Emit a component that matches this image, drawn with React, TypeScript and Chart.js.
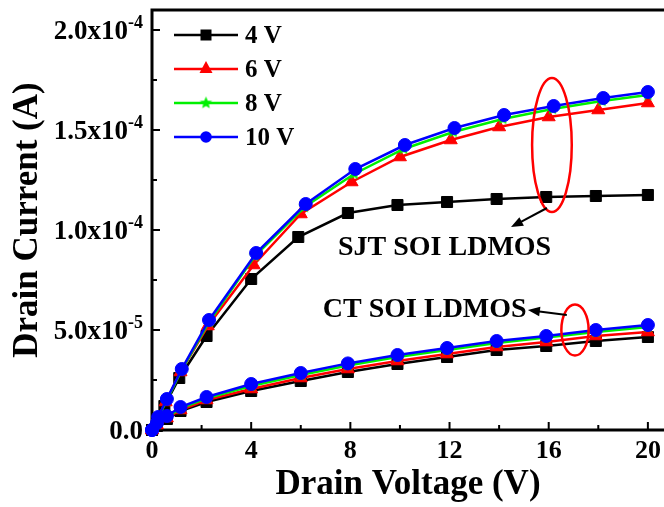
import React, { useEffect, useRef } from 'react';
import { Chart, registerables } from 'chart.js';
Chart.register(...registerables);

// ---------- data ----------
const seriesLabels = ['4 V', '6 V', '8 V', '10 V'];
const seriesColors = ['#000000', '#ff0000', '#00f000', '#0000ff'];

// SJT SOI LDMOS curves
const sjt4x = [0, 0.2, 0.5, 1.1, 2.2, 4.0, 5.9, 7.9, 9.9, 11.9, 13.9, 15.9, 17.9, 20];
const sjt4y = [0, 0.04e-4, 0.12e-4, 0.26e-4, 0.47e-4, 0.755e-4, 0.965e-4, 1.085e-4, 1.125e-4, 1.14e-4, 1.155e-4, 1.165e-4, 1.17e-4, 1.175e-4];
const sjt6x = [0, 0.2, 0.55, 1.15, 2.25, 4.1, 6.0, 8.05, 10.0, 12.05, 14.0, 16.0, 18.0, 20];
const sjt6y = [0, 0.05e-4, 0.14e-4, 0.29e-4, 0.52e-4, 0.825e-4, 1.08e-4, 1.24e-4, 1.365e-4, 1.45e-4, 1.515e-4, 1.565e-4, 1.6e-4, 1.635e-4];
const sjt8x = [0, 0.25, 0.6, 1.2, 2.3, 4.15, 6.15, 8.15, 10.15, 12.15, 14.15, 16.15, 18.15, 20];
const sjt8y = [0, 0.06e-4, 0.15e-4, 0.3e-4, 0.54e-4, 0.87e-4, 1.115e-4, 1.28e-4, 1.405e-4, 1.49e-4, 1.555e-4, 1.605e-4, 1.645e-4, 1.675e-4];
const sjt10x = [0, 0.25, 0.6, 1.2, 2.3, 4.2, 6.2, 8.2, 10.2, 12.2, 14.2, 16.2, 18.2, 20];
const sjt10y = [0, 0.065e-4, 0.155e-4, 0.305e-4, 0.55e-4, 0.885e-4, 1.13e-4, 1.305e-4, 1.425e-4, 1.51e-4, 1.575e-4, 1.62e-4, 1.66e-4, 1.69e-4];

// CT SOI LDMOS curves
const ctX = [0, 0.2, 0.6, 1.15, 2.2, 4.0, 6.0, 7.9, 9.9, 11.9, 13.9, 15.9, 17.9, 20];
const ct4y = [0, 0.02e-4, 0.055e-4, 0.095e-4, 0.14e-4, 0.195e-4, 0.245e-4, 0.29e-4, 0.33e-4, 0.365e-4, 0.4e-4, 0.42e-4, 0.445e-4, 0.465e-4];
const ct6y = [0, 0.025e-4, 0.06e-4, 0.1e-4, 0.15e-4, 0.205e-4, 0.26e-4, 0.305e-4, 0.345e-4, 0.38e-4, 0.415e-4, 0.44e-4, 0.47e-4, 0.49e-4];
const ct8y = [0, 0.03e-4, 0.065e-4, 0.108e-4, 0.158e-4, 0.22e-4, 0.275e-4, 0.322e-4, 0.365e-4, 0.4e-4, 0.435e-4, 0.462e-4, 0.49e-4, 0.515e-4];
const ct10y = [0, 0.035e-4, 0.07e-4, 0.115e-4, 0.165e-4, 0.23e-4, 0.285e-4, 0.333e-4, 0.375e-4, 0.41e-4, 0.445e-4, 0.47e-4, 0.5e-4, 0.525e-4];

// axes
const xMajorTicks = [0, 4, 8, 12, 16, 20];
const xMinorTicks = [2, 6, 10, 14, 18];
const yMajorTicks = [0, 0.5e-4, 1.0e-4, 1.5e-4, 2.0e-4];
const yMinorTicks = [0.25e-4, 0.75e-4, 1.25e-4, 1.75e-4];
const yTickMain = ['0.0', '5.0x10', '1.0x10', '1.5x10', '2.0x10'];
const yTickExp = ['', '-5', '-4', '-4', '-4'];
const xTitle = 'Drain Voltage (V)';
const yTitle = 'Drain Current (A)';

// annotations (data coordinates)
const noteTexts = ['SJT SOI LDMOS', 'CT SOI LDMOS'];
const noteX = [11.8, 11.0];
const noteY = [0.915e-4, 0.605e-4];
const ellipseCx = [16.13, 17.06];
const ellipseCy = [1.425e-4, 0.5e-4];
const ellipseRx = [0.8, 0.55];
const ellipseRy = [0.335e-4, 0.1275e-4];
const arrowFromX = [15.93, 16.73];
const arrowFromY = [1.11e-4, 0.575e-4];
const arrowToX = [14.48, 15.16];
const arrowToY = [1.015e-4, 0.6e-4];

const FONT = "'Liberation Serif', 'Times New Roman', serif";

function makeStar(color: string, r: number) {
  const c = document.createElement('canvas');
  const s = Math.ceil(r * 2 + 2);
  c.width = s;
  c.height = s;
  const g = c.getContext('2d')!;
  g.beginPath();
  for (let i = 0; i < 10; i++) {
    const ang = -Math.PI / 2 + (i * Math.PI) / 5;
    const rr = i % 2 === 0 ? r : r * 0.45;
    g.lineTo(s / 2 + rr * Math.cos(ang), s / 2 + rr * Math.sin(ang));
  }
  g.closePath();
  g.fillStyle = color;
  g.fill();
  return c;
}

function zip(xs: number[], ys: number[]) {
  return xs.map((x, i) => ({ x, y: ys[i] }));
}

export default function App() {
  const ref = useRef<HTMLCanvasElement>(null);
  useEffect(() => {
    const star = makeStar(seriesColors[2], 6.5);
    const markers: any[] = ['rect', 'triangle', star, 'circle'];
    const radii = [7.8, 7.5, 6, 6.5];
    const sjt = [zip(sjt4x, sjt4y), zip(sjt6x, sjt6y), zip(sjt8x, sjt8y), zip(sjt10x, sjt10y)];
    const ct = [zip(ctX, ct4y), zip(ctX, ct6y), zip(ctX, ct8y), zip(ctX, ct10y)];
    const datasets: any[] = [];
    for (let i = 0; i < 4; i++) {
      for (const d of [sjt[i], ct[i]]) {
        datasets.push({
          label: seriesLabels[i],
          data: d,
          borderColor: seriesColors[i],
          backgroundColor: seriesColors[i],
          pointBackgroundColor: seriesColors[i],
          pointBorderColor: seriesColors[i],
          borderWidth: 2.5,
          pointStyle: markers[i],
          pointRadius: radii[i],
          pointBorderWidth: 1,
          order: 3 - i,
          clip: false,
          tension: 0,
        });
      }
    }

    const decor = {
      id: 'decor',
      beforeDatasetsDraw(chart: any) {
        const { ctx, chartArea: a, scales } = chart;
        const x = scales.x;
        const y = scales.y;
        ctx.save();
        ctx.strokeStyle = '#000';
        ctx.lineWidth = 3;
        ctx.beginPath();
        ctx.moveTo(a.right + 5, a.top);
        ctx.lineTo(a.left, a.top);
        ctx.lineTo(a.left, a.bottom);
        ctx.lineTo(a.right + 5, a.bottom);
        ctx.stroke();
        ctx.lineWidth = 2;
        ctx.beginPath();
        for (const v of xMajorTicks) {
          const px = x.getPixelForValue(v);
          ctx.moveTo(px, a.bottom);
          ctx.lineTo(px, a.bottom - 8);
        }
        for (const v of xMinorTicks) {
          const px = x.getPixelForValue(v);
          ctx.moveTo(px, a.bottom);
          ctx.lineTo(px, a.bottom - 5);
        }
        for (const v of yMajorTicks) {
          const py = y.getPixelForValue(v);
          ctx.moveTo(a.left, py);
          ctx.lineTo(a.left + 8, py);
        }
        for (const v of yMinorTicks) {
          const py = y.getPixelForValue(v);
          ctx.moveTo(a.left, py);
          ctx.lineTo(a.left + 5, py);
        }
        ctx.stroke();
        // y tick labels with superscript exponents
        ctx.fillStyle = '#000';
        const right = a.left - 9;
        yMajorTicks.forEach((v, i) => {
          const py = y.getPixelForValue(v);
          ctx.font = `bold 18px ${FONT}`;
          const ew = yTickExp[i] ? ctx.measureText(yTickExp[i]).width : 0;
          if (yTickExp[i]) {
            ctx.textAlign = 'right';
            ctx.textBaseline = 'alphabetic';
            ctx.fillText(yTickExp[i], right, py - 2);
          }
          ctx.font = `bold 27px ${FONT}`;
          ctx.textAlign = 'right';
          ctx.textBaseline = 'middle';
          ctx.fillText(yTickMain[i], right - ew, py + 2);
        });
        ctx.restore();
      },
      afterDatasetsDraw(chart: any) {
        const { ctx, chartArea: a, scales } = chart;
        const x = scales.x;
        const y = scales.y;
        ctx.save();
        // ellipses
        ctx.strokeStyle = '#ff0000';
        ctx.lineWidth = 2.5;
        for (let i = 0; i < ellipseCx.length; i++) {
          const cx = x.getPixelForValue(ellipseCx[i]);
          const cy = y.getPixelForValue(ellipseCy[i]);
          const rx = Math.abs(x.getPixelForValue(ellipseCx[i] + ellipseRx[i]) - cx);
          const ry = Math.abs(y.getPixelForValue(ellipseCy[i] + ellipseRy[i]) - cy);
          ctx.beginPath();
          ctx.ellipse(cx, cy, rx, ry, 0, 0, Math.PI * 2);
          ctx.stroke();
        }
        // arrows
        ctx.strokeStyle = '#000';
        ctx.fillStyle = '#000';
        ctx.lineWidth = 2;
        for (let i = 0; i < arrowFromX.length; i++) {
          const x1 = x.getPixelForValue(arrowFromX[i]);
          const y1 = y.getPixelForValue(arrowFromY[i]);
          const x2 = x.getPixelForValue(arrowToX[i]);
          const y2 = y.getPixelForValue(arrowToY[i]);
          const ang = Math.atan2(y2 - y1, x2 - x1);
          const head = 12;
          const c = Math.cos(ang), s = Math.sin(ang);
          ctx.beginPath();
          ctx.moveTo(x1, y1);
          ctx.lineTo(x2 - head * 0.8 * c, y2 - head * 0.8 * s);
          ctx.stroke();
          ctx.beginPath();
          ctx.moveTo(x2, y2);
          ctx.lineTo(x2 - head * c + head * 0.4 * s, y2 - head * s - head * 0.4 * c);
          ctx.lineTo(x2 - head * c - head * 0.4 * s, y2 - head * s + head * 0.4 * c);
          ctx.closePath();
          ctx.fill();
        }
        // texts
        ctx.font = `bold 28px ${FONT}`;
        ctx.textAlign = 'center';
        ctx.textBaseline = 'middle';
        for (let i = 0; i < noteTexts.length; i++) {
          ctx.fillText(noteTexts[i], x.getPixelForValue(noteX[i]), y.getPixelForValue(noteY[i]) + 1);
        }
        // legend
        const lx0 = a.left + 22;
        const lx1 = a.left + 86;
        const mx = a.left + 54;
        const tx = a.left + 93;
        for (let i = 0; i < 4; i++) {
          const ly = a.top + 25 + i * 34;
          ctx.strokeStyle = seriesColors[i];
          ctx.lineWidth = 2.5;
          ctx.beginPath();
          ctx.moveTo(lx0, ly);
          ctx.lineTo(lx1, ly);
          ctx.stroke();
          ctx.fillStyle = seriesColors[i];
          ctx.strokeStyle = seriesColors[i];
          ctx.lineWidth = 1;
          if (i === 0) {
            ctx.fillRect(mx - 5.5, ly - 5.5, 11, 11);
          } else if (i === 1) {
            ctx.beginPath();
            ctx.moveTo(mx, ly - 8);
            ctx.lineTo(mx + 6.5, ly + 4);
            ctx.lineTo(mx - 6.5, ly + 4);
            ctx.closePath();
            ctx.fill();
          } else if (i === 2) {
            ctx.drawImage(star, mx - star.width / 2, ly - star.height / 2);
          } else {
            ctx.beginPath();
            ctx.arc(mx, ly, 5.8, 0, Math.PI * 2);
            ctx.fill();
          }
          ctx.fillStyle = '#000';
          ctx.font = `bold 25px ${FONT}`;
          ctx.textAlign = 'left';
          ctx.textBaseline = 'middle';
          ctx.fillText(seriesLabels[i], tx, ly + 2);
        }
        ctx.restore();
      },
    };

    const chart = new Chart(ref.current!, {
      type: 'line',
      data: { datasets },
      options: {
        animation: false,
        responsive: false,
        devicePixelRatio: 1,
        layout: { autoPadding: false, padding: { top: 10, left: 0, right: 0, bottom: 0 } },
        plugins: { legend: { display: false }, tooltip: { enabled: false } },
        scales: {
          x: {
            type: 'linear',
            min: 0,
            max: 20.65,
            afterBuildTicks: (s: any) => {
              s.ticks = xMajorTicks.map((v) => ({ value: v }));
            },
            afterFit: (s: any) => {
              s.height = 77;
              s.paddingLeft = 0;
              s.paddingRight = 0;
            },
            grid: { display: false },
            border: { display: false },
            ticks: {
              autoSkip: false,
              maxRotation: 0,
              padding: -2,
              color: '#000',
              font: { family: FONT, size: 26, weight: 'bold' },
              callback: (v: any) => String(v),
            },
            title: {
              display: true,
              text: xTitle,
              color: '#000',
              font: { family: FONT, size: 35, weight: 'bold' },
              padding: { top: 0, bottom: 1 },
            },
          },
          y: {
            type: 'linear',
            min: 0,
            max: 2.1e-4,
            afterFit: (s: any) => {
              s.width = 152;
              s.paddingTop = 0;
              s.paddingBottom = 0;
            },
            grid: { display: false },
            border: { display: false },
            ticks: { display: false },
            title: {
              display: true,
              text: yTitle,
              color: '#000',
              font: { family: FONT, size: 35, weight: 'bold' },
              padding: { top: 7, bottom: 0 },
            },
          },
        },
      } as any,
      plugins: [decor],
    });
    return () => chart.destroy();
  }, []);
  return (
    <div style={{ position: 'absolute', left: 0, top: 0, width: 664, height: 507, background: '#fff' }}>
      <canvas ref={ref} width={664} height={507} style={{ display: 'block', width: 664, height: 507 }} />
    </div>
  );
}
